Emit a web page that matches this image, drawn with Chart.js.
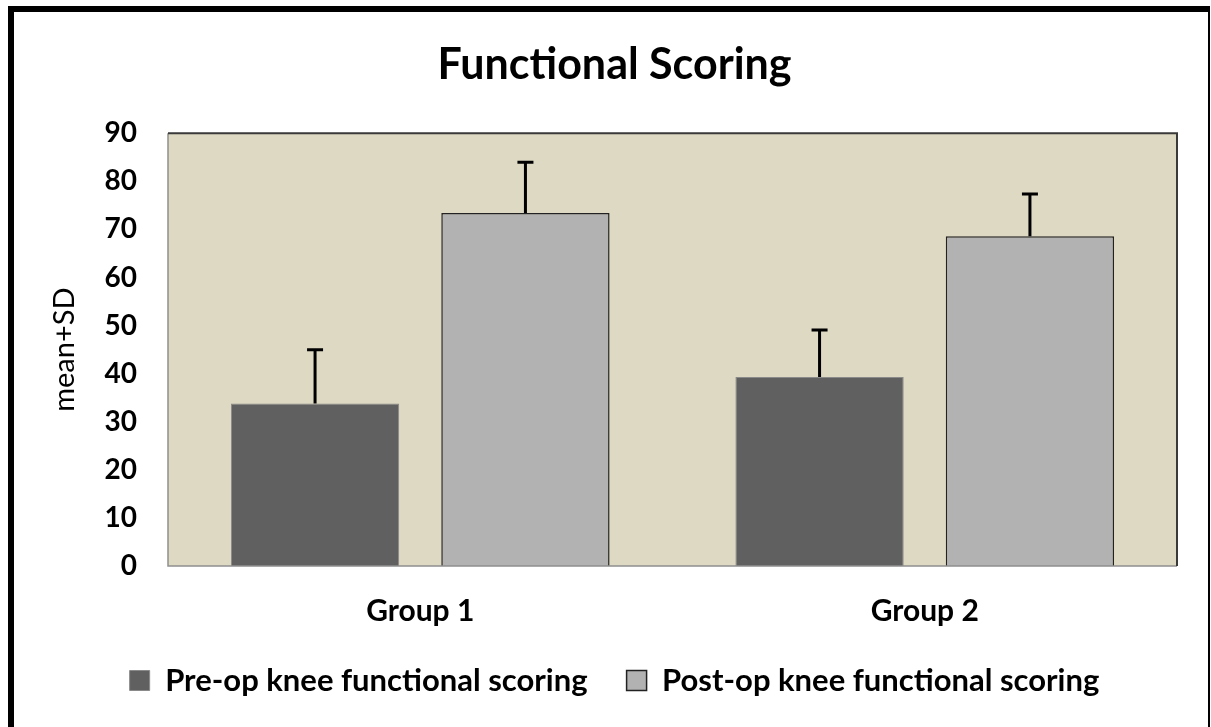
<!DOCTYPE html>
<html>
<head>
<meta charset="utf-8">
<script src="https://cdn.jsdelivr.net/npm/chart.js@4.4.1/dist/chart.umd.min.js"></script>
<style>
    html, body { margin: 0; padding: 0; background: #fff; overflow: hidden; }
    #frame {
        position: absolute; left: 8px; top: 6px;
        width: 1194px; height: 800px;
        border-left: 6px solid #000; border-top: 6px solid #000; border-right: 2px solid #000;
    }
    #wrap { position: absolute; left: 0; top: 0; width: 1211px; height: 727px; }
</style>
</head>
<body>
<div id="frame"></div>
<div id="wrap"><canvas id="myChart"></canvas></div>
<script>
const groups = ['Group 1', 'Group 2'];
const preMean = [33.8, 39.3];
const preSD = [11.2, 9.8];
const postMean = [73.4, 68.6];
const postSD = [10.6, 8.8];
const yTicks = [0, 10, 20, 30, 40, 50, 60, 70, 80, 90];

const sdList = [preSD, postSD];

Chart.defaults.font.family = 'Lato, "Open Sans", sans-serif';
Chart.defaults.color = '#000';

// beige plot background + frame round the plot area
const plotArea = {
    id: 'plotArea',
    beforeDatasetsDraw(chart) {
        const { ctx, chartArea: a } = chart;
        ctx.save();
        ctx.fillStyle = '#ddd9c3';
        ctx.fillRect(a.left, a.top, a.right - a.left, a.bottom - a.top);
        ctx.restore();
    },
    afterDatasetsDraw(chart) {
        const { ctx, chartArea: a } = chart;
        ctx.save();
        ctx.lineWidth = 1.5;
        ctx.strokeStyle = '#8f8f8f';
        ctx.beginPath();
        ctx.moveTo(a.left, a.top);
        ctx.lineTo(a.left, a.bottom);
        ctx.lineTo(a.right, a.bottom);
        ctx.stroke();
        ctx.lineWidth = 2;
        ctx.strokeStyle = '#3a3a3a';
        ctx.beginPath();
        ctx.moveTo(a.left, a.top);
        ctx.lineTo(a.right, a.top);
        ctx.lineTo(a.right, a.bottom);
        ctx.stroke();

        // upward error bars (mean + SD)
        const y = chart.scales.y;
        ctx.lineWidth = 3;
        ctx.strokeStyle = '#000';
        chart.data.datasets.forEach((ds, i) => {
            const meta = chart.getDatasetMeta(i);
            meta.data.forEach((bar, j) => {
                const top = y.getPixelForValue(ds.data[j] + sdList[i][j]);
                ctx.beginPath();
                ctx.moveTo(bar.x, bar.y);
                ctx.lineTo(bar.x, top);
                ctx.moveTo(bar.x - 8, top);
                ctx.lineTo(bar.x + 8, top);
                ctx.stroke();
            });
        });
        ctx.restore();
    }
};

new Chart('myChart', {
    type: 'bar',
    data: {
        labels: groups,
        datasets: [{
            label: 'Pre-op knee functional scoring',
            data: preMean,
            backgroundColor: '#606060',
            borderColor: '#8a8a8a',
            borderWidth: 1,
            categoryPercentage: 0.834,
            barPercentage: 0.8
        }, {
            label: 'Post-op knee functional scoring',
            data: postMean,
            backgroundColor: '#b2b2b2',
            borderColor: '#222',
            borderWidth: 1.5,
            categoryPercentage: 0.834,
            barPercentage: 0.8
        }]
    },
    options: {
        responsive: true,
        maintainAspectRatio: false,
        animation: false,
        layout: { padding: { left: 52, right: 34, top: 0, bottom: 21 } },
        plugins: {
            title: {
                display: true,
                text: 'Functional Scoring',
                font: { size: 43, weight: 'bold', lineHeight: 1.1 },
                padding: { top: 41, bottom: 45 }
            },
            legend: {
                position: 'bottom',
                labels: {
                    boxWidth: 20,
                    boxHeight: 20,
                    padding: 39,
                    font: { size: 31, weight: 'bold' }
                }
            },
            tooltip: { enabled: false }
        },
        scales: {
            x: {
                grid: { display: false, drawTicks: false },
                border: { display: false },
                ticks: { padding: 30, font: { size: 30, weight: 'bold', lineHeight: 1 } },
                afterFit(scale) { scale.height = 60; }
            },
            y: {
                min: 0,
                max: 90,
                afterBuildTicks(scale) { scale.ticks = yTicks.map(v => ({ value: v })); },
                grid: { display: false, drawTicks: false },
                border: { display: false },
                ticks: { padding: 31, font: { size: 28, weight: 'bold' } },
                title: {
                    display: true,
                    text: 'mean+SD',
                    font: { size: 29, lineHeight: 1 },
                    padding: { top: -2, bottom: 0 }
                },
                afterFit(scale) { scale.width = 116; }
            }
        }
    },
    plugins: [plotArea]
});
</script>
</body>
</html>
